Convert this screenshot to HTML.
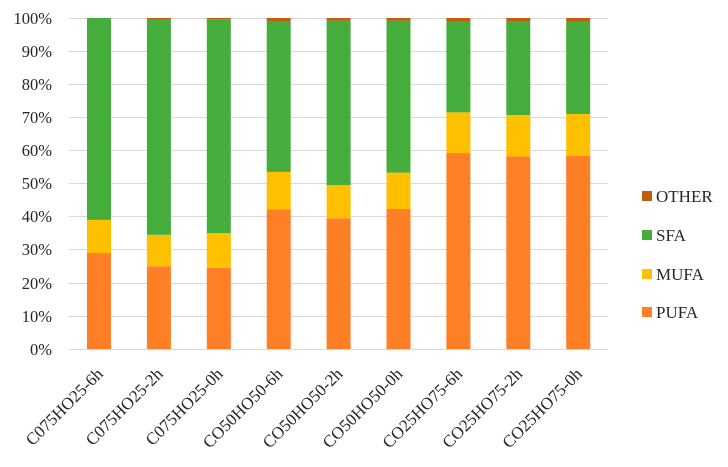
<!DOCTYPE html>
<html><head><style>body{margin:0;background:#fff}</style></head><body>
<svg width="728" height="462" xmlns="http://www.w3.org/2000/svg" font-family="Liberation Serif, serif" font-size="17" fill="#262626">
<g stroke="#d9d9d9" stroke-width="1">
<line x1="69" x2="608" y1="18.5" y2="18.5"/><line x1="69" x2="608" y1="51.5" y2="51.5"/><line x1="69" x2="608" y1="84.5" y2="84.5"/><line x1="69" x2="608" y1="117.5" y2="117.5"/><line x1="69" x2="608" y1="150.5" y2="150.5"/><line x1="69" x2="608" y1="183.5" y2="183.5"/><line x1="69" x2="608" y1="216.5" y2="216.5"/><line x1="69" x2="608" y1="249.5" y2="249.5"/><line x1="69" x2="608" y1="283.5" y2="283.5"/><line x1="69" x2="608" y1="316.5" y2="316.5"/><line x1="69" x2="608" y1="349.5" y2="349.5"/>
</g>
<g text-anchor="end" font-size="16.5">
<text x="52" y="24">100%</text><text x="52" y="57">90%</text><text x="52" y="90">80%</text><text x="52" y="123">70%</text><text x="52" y="156">60%</text><text x="52" y="189">50%</text><text x="52" y="222">40%</text><text x="52" y="255">30%</text><text x="52" y="289">20%</text><text x="52" y="322">10%</text><text x="52" y="355">0%</text>
</g>
<g>
<rect x="87" y="253" width="24" height="96" fill="#ff7f27"/><rect x="87" y="219.9" width="24" height="33.1" fill="#ffc000"/><rect x="87" y="18" width="24" height="201.9" fill="#44ad3c"/>
<rect x="146.9" y="266.25" width="24" height="82.75" fill="#ff7f27"/><rect x="146.9" y="234.8" width="24" height="31.45" fill="#ffc000"/><rect x="146.9" y="19.65" width="24" height="215.15" fill="#44ad3c"/><rect x="146.9" y="18" width="24" height="1.65" fill="#c55a11"/>
<rect x="206.8" y="267.9" width="24" height="81.1" fill="#ff7f27"/><rect x="206.8" y="233.15" width="24" height="34.75" fill="#ffc000"/><rect x="206.8" y="19.3" width="24" height="213.85" fill="#44ad3c"/><rect x="206.8" y="18" width="24" height="1.3" fill="#c55a11"/>
<rect x="266.7" y="209.3" width="24" height="139.7" fill="#ff7f27"/><rect x="266.7" y="171.9" width="24" height="37.4" fill="#ffc000"/><rect x="266.7" y="21" width="24" height="150.9" fill="#44ad3c"/><rect x="266.7" y="18" width="24" height="3" fill="#c55a11"/>
<rect x="326.6" y="218.3" width="24" height="130.7" fill="#ff7f27"/><rect x="326.6" y="185.2" width="24" height="33.1" fill="#ffc000"/><rect x="326.6" y="20.6" width="24" height="164.6" fill="#44ad3c"/><rect x="326.6" y="18" width="24" height="2.6" fill="#c55a11"/>
<rect x="386.5" y="209" width="24" height="140" fill="#ff7f27"/><rect x="386.5" y="172.6" width="24" height="36.4" fill="#ffc000"/><rect x="386.5" y="20.6" width="24" height="152" fill="#44ad3c"/><rect x="386.5" y="18" width="24" height="2.6" fill="#c55a11"/>
<rect x="446.4" y="153.05" width="24" height="195.95" fill="#ff7f27"/><rect x="446.4" y="112.35" width="24" height="40.7" fill="#ffc000"/><rect x="446.4" y="21" width="24" height="91.35" fill="#44ad3c"/><rect x="446.4" y="18" width="24" height="3" fill="#c55a11"/>
<rect x="506.3" y="156.4" width="24" height="192.6" fill="#ff7f27"/><rect x="506.3" y="115" width="24" height="41.4" fill="#ffc000"/><rect x="506.3" y="21" width="24" height="94" fill="#44ad3c"/><rect x="506.3" y="18" width="24" height="3" fill="#c55a11"/>
<rect x="566.2" y="155.7" width="24" height="193.3" fill="#ff7f27"/><rect x="566.2" y="114" width="24" height="41.7" fill="#ffc000"/><rect x="566.2" y="21" width="24" height="93" fill="#44ad3c"/><rect x="566.2" y="18" width="24" height="3" fill="#c55a11"/>
</g>
<g text-anchor="end">
<text transform="translate(104,375) rotate(-45)">C075HO25-6h</text>
<text transform="translate(163.9,375) rotate(-45)">C075HO25-2h</text>
<text transform="translate(223.8,375) rotate(-45)">C075HO25-0h</text>
<text transform="translate(283.7,375) rotate(-45)">CO50HO50-6h</text>
<text transform="translate(343.6,375) rotate(-45)">CO50HO50-2h</text>
<text transform="translate(403.5,375) rotate(-45)">CO50HO50-0h</text>
<text transform="translate(463.4,375) rotate(-45)">CO25HO75-6h</text>
<text transform="translate(523.3,375) rotate(-45)">CO25HO75-2h</text>
<text transform="translate(583.2,375) rotate(-45)">CO25HO75-0h</text>
</g>
<g>
<rect x="642" y="191" width="10" height="10" fill="#c55a11"/><text x="656" y="202">OTHER</text>
<rect x="642" y="230" width="10" height="10" fill="#44ad3c"/><text x="656" y="241">SFA</text>
<rect x="642" y="269" width="10" height="10" fill="#ffc000"/><text x="656" y="280">MUFA</text>
<rect x="642" y="307" width="10" height="10" fill="#ff7f27"/><text x="656" y="318">PUFA</text>
</g>
</svg>
</body></html>
